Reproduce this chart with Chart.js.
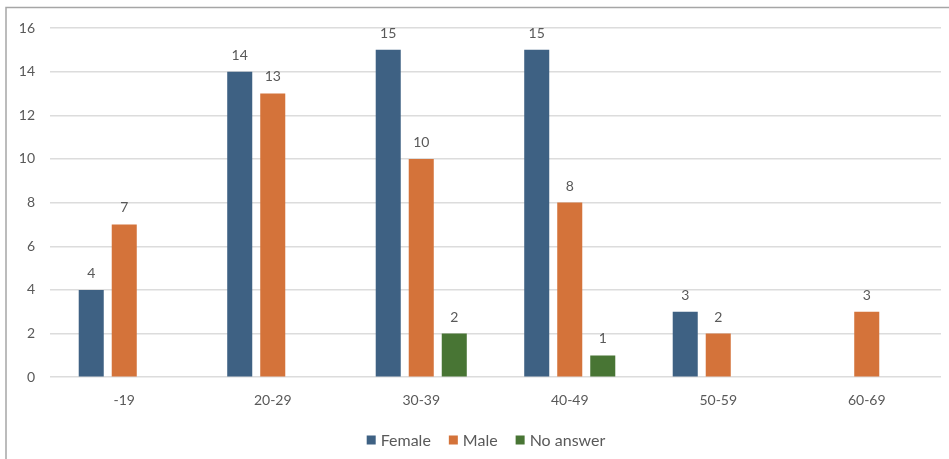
<!DOCTYPE html>
<html>
<head>
<meta charset="utf-8">
<script src="https://cdn.jsdelivr.net/npm/chart.js@4/dist/chart.umd.min.js"></script>
<style>
  html, body { margin: 0; padding: 0; background: #ffffff; }
  #wrap { position: relative; width: 949px; height: 459px; }
</style>
</head>
<body>
<div id="wrap"><canvas id="c" width="949" height="459"></canvas></div>
<script>
// Age groups and respondent counts by gender
const ageGroups = ['-19', '20-29', '30-39', '40-49', '50-59', '60-69'];
const female    = [4, 14, 15, 15, 3, null];
const male      = [7, 13, 10, 8, 2, 3];
const noAnswer  = [null, null, 2, 1, null, null];
const yTicks    = [0, 2, 4, 6, 8, 10, 12, 14, 16];

const TEXT = '#595959';
const FONT = 'Lato, "Liberation Sans", sans-serif';

// Thin frame along the top and left edges of the chart box
const framePlugin = {
  id: 'frame',
  beforeDraw(chart) {
    const ctx = chart.ctx;
    ctx.save();
    ctx.strokeStyle = '#a6a6a6';
    ctx.lineWidth = 1.5;
    ctx.beginPath();
    ctx.moveTo(6, chart.height);
    ctx.lineTo(6, 7.5);
    ctx.lineTo(chart.width, 7.5);
    ctx.stroke();
    ctx.restore();
  }
};

// Value labels above each bar
const valueLabels = {
  id: 'valueLabels',
  afterDatasetsDraw(chart) {
    const ctx = chart.ctx;
    ctx.save();
    ctx.font = '14px ' + FONT;
    ctx.fillStyle = TEXT;
    ctx.textAlign = 'center';
    ctx.textBaseline = 'alphabetic';
    chart.data.datasets.forEach((ds, i) => {
      const meta = chart.getDatasetMeta(i);
      meta.data.forEach((bar, j) => {
        const v = ds.data[j];
        if (v === null || v === undefined) return;
        ctx.fillText(String(v), bar.x, bar.y - 12);
      });
    });
    ctx.restore();
  }
};

// Compact legend row centred under the plot
const bottomLegend = {
  id: 'bottomLegend',
  afterDraw(chart) {
    const ctx = chart.ctx;
    const box = 9, boxGap = 5, itemGap = 18, cy = 440, cx = 486;
    ctx.save();
    ctx.font = '16px ' + FONT;
    ctx.textBaseline = 'middle';
    ctx.textAlign = 'left';
    const items = chart.data.datasets.map(ds => ({
      label: ds.label, color: ds.backgroundColor, w: ctx.measureText(ds.label).width
    }));
    const total = items.reduce((s, it) => s + box + boxGap + it.w, 0) + itemGap * (items.length - 1);
    let x = cx - total / 2;
    items.forEach(it => {
      ctx.fillStyle = it.color;
      ctx.fillRect(x, cy - box / 2, box, box);
      x += box + boxGap;
      ctx.fillStyle = TEXT;
      ctx.fillText(it.label, x, cy + 1);
      x += it.w + itemGap;
    });
    ctx.restore();
  }
};

new Chart(document.getElementById('c'), {
  type: 'bar',
  data: {
    labels: ageGroups,
    datasets: [
      { label: 'Female',    data: female,   backgroundColor: '#3e6183' },
      { label: 'Male',      data: male,     backgroundColor: '#d4733a' },
      { label: 'No answer', data: noAnswer, backgroundColor: '#487534' }
    ]
  },
  options: {
    responsive: false,
    animation: false,
    layout: { padding: { left: 0, right: 8, top: 28, bottom: 35 } },
    datasets: {
      bar: { categoryPercentage: 0.667, barPercentage: 0.758 }
    },
    plugins: {
      legend: { display: false },
      tooltip: { enabled: false }
    },
    scales: {
      x: {
        grid: { display: false, drawTicks: false },
        border: { display: false },
        ticks: { color: TEXT, font: { family: FONT, size: 14 }, padding: 15 }
      },
      y: {
        min: 0,
        max: 16,
        afterFit(scale) { scale.width = 50; },
        afterBuildTicks(scale) { scale.ticks = yTicks.map(v => ({ value: v })); },
        grid: { color: '#dcdcdc', lineWidth: 1.5, drawTicks: false },
        border: { display: false },
        ticks: { color: TEXT, font: { family: FONT, size: 14 }, padding: 15 }
      }
    }
  },
  plugins: [framePlugin, valueLabels, bottomLegend]
});
</script>
</body>
</html>
